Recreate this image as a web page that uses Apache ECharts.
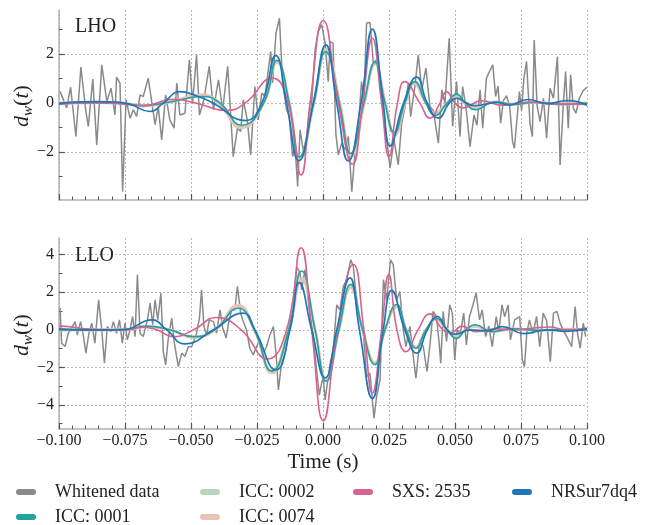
<!DOCTYPE html>
<html>
<head>
<meta charset="utf-8">
<script src="https://cdn.jsdelivr.net/npm/echarts@6/dist/echarts.min.js"></script>
<style>
html,body{margin:0;padding:0;background:#fff;}
#chart{width:649px;height:525px;}
</style>
</head>
<body>
<div id="chart"></div>
<script>
// ---------------- data (time in s, whitened strain) ----------------
const xTicks = [-0.1, -0.075, -0.05, -0.025, 0, 0.025, 0.05, 0.075, 0.1];
const lhoYTicks = [-2, 0, 2];
const lloYTicks = [-4, -2, 0, 2, 4];
const lhoYMinor = [-3, -1, 1, 3];
const lloYMinor = [-5, -3, -1, 1, 3];
const seriesNames = ['Whitened data', 'ICC: 0002', 'ICC: 0074', 'ICC: 0001', 'SXS: 2535', 'NRSur7dq4'];

const lhoWhitened = [[-0.0996,0.48],[-0.0971,-0.20],[-0.0956,0.65],[-0.0936,-1.36],[-0.0917,1.47],[-0.0899,-0.27],[-0.0889,-0.95],[-0.0872,0.98],[-0.0857,-1.70],[-0.0838,1.56],
[-0.0819,0.07],[-0.0803,0.61],[-0.0788,-0.48],[-0.0782,1.06],[-0.0769,0.82],[-0.0759,-3.60],[-0.0746,0.14],[-0.0731,-0.61],[-0.0718,-0.27],[-0.0706,-0.54],
[-0.0693,0.34],[-0.0681,0.27],[-0.0662,1.02],[-0.0636,-0.88],[-0.0624,-0.14],[-0.0611,-1.50],[-0.0596,0.34],[-0.0580,-0.68],[-0.0564,-1.02],[-0.0554,0.82],
[-0.0542,-0.48],[-0.0523,-0.41],[-0.0506,1.77],[-0.0494,0.00],[-0.0479,1.97],[-0.0468,-0.48],[-0.0451,0.14],[-0.0431,1.50],[-0.0415,-0.27],[-0.0396,0.95],
[-0.0380,-0.27],[-0.0361,1.50],[-0.0340,-2.18],[-0.0324,-1.02],[-0.0312,-1.16],[-0.0302,0.14],[-0.0287,-0.68],[-0.0274,-2.11],[-0.0258,0.68],[-0.0245,-0.68],
[-0.0232,0.41],[-0.0220,0.27],[-0.0198,2.11],[-0.0191,0.82],[-0.0178,2.86],[-0.0165,3.47],[-0.0153,0.82],[-0.0138,-0.27],[-0.0128,-0.54],[-0.0115,-2.18],
[-0.0106,-1.77],[-0.0096,-3.40],[-0.0087,-1.09],[-0.0074,-1.97],[-0.0062,-1.36],[-0.0043,0.00],[-0.0030,2.18],[-0.0018,2.93],[-0.0005,3.20],[0.0008,2.45],
[0.0020,0.88],[0.0027,2.51],[0.0038,2.45],[0.0049,-1.29],[0.0058,-2.11],[0.0071,-1.63],[0.0084,-1.90],[0.0096,-1.36],[0.0109,-3.61],[0.0120,-2.18],
[0.0134,-0.95],[0.0146,0.88],[0.0155,0.13],[0.0165,3.27],[0.0178,3.29],[0.0191,1.63],[0.0200,1.75],[0.0210,1.70],[0.0222,0.27],[0.0235,-0.89],
[0.0254,-2.65],[0.0269,-1.50],[0.0285,-2.52],[0.0298,-0.82],[0.0310,-0.20],[0.0323,0.82],[0.0332,-0.55],[0.0348,0.68],[0.0361,1.97],[0.0374,0.54],
[0.0390,1.43],[0.0405,-0.14],[0.0418,-0.30],[0.0437,-1.63],[0.0450,0.54],[0.0462,0.00],[0.0478,2.65],[0.0491,-0.95],[0.0506,0.88],[0.0519,-1.36],
[0.0529,0.68],[0.0543,-0.30],[0.0557,-1.77],[0.0572,-0.48],[0.0583,-0.90],[0.0595,0.54],[0.0605,-1.02],[0.0619,1.02],[0.0631,1.30],[0.0643,1.56],
[0.0654,0.27],[0.0663,0.70],[0.0673,-0.82],[0.0683,0.10],[0.0695,0.30],[0.0707,-0.10],[0.0718,-1.56],[0.0725,-1.84],[0.0744,0.47],[0.0752,-0.30],
[0.0761,1.02],[0.0771,1.70],[0.0784,-0.82],[0.0793,-1.36],[0.0800,2.58],[0.0811,-0.10],[0.0822,-0.75],[0.0835,0.20],[0.0847,-1.43],[0.0860,0.61],
[0.0873,0.20],[0.0888,1.90],[0.0898,-2.52],[0.0910,-0.10],[0.0919,1.29],[0.0929,-1.02],[0.0938,1.16],[0.0948,-0.20],[0.0958,-0.41],[0.0971,0.20],
[0.0985,0.50],[0.0999,0.65]];

const lhoICC0002 = [[-0.1,0.0],[-0.085,0.02],[-0.076,0.0],[-0.068,-0.1],[-0.058,0.05],[-0.0454,0.30],[-0.039,0.0],[-0.0308,-0.95],[-0.0225,0.0],[-0.0175,1.70],[-0.0128,0.0],[-0.0088,-2.25],[-0.0035,0.0],[0.0012,2.15],[0.0062,0.0],[0.0105,-2.10],[0.0155,0.0],[0.0197,1.60],[0.0235,0.0],[0.027,-1.25],[0.031,0.0],[0.0348,0.85],[0.039,0.0],[0.0425,-0.45],[0.047,0.0],[0.0503,0.28],[0.054,0.0],[0.0576,-0.2],[0.065,0.06],[0.072,-0.04],[0.08,0.03],[0.09,-0.04],[0.1,0.0]];
const lhoICC0074 = [[-0.1,0.0],[-0.085,0.02],[-0.076,0.0],[-0.068,-0.12],[-0.058,0.05],[-0.046,0.35],[-0.0395,0.0],[-0.031,-1.0],[-0.0225,0.0],[-0.0175,1.65],[-0.0128,0.0],[-0.0088,-2.30],[-0.0035,0.0],[0.0012,2.20],[0.0064,0.0],[0.0108,-2.15],[0.0157,0.0],[0.0197,1.60],[0.0237,0.0],[0.0272,-1.30],[0.0312,0.0],[0.0345,0.80],[0.039,0.0],[0.0425,-0.40],[0.047,0.0],[0.05,0.22],[0.054,0.0],[0.0576,-0.15],[0.065,0.05],[0.072,-0.04],[0.08,0.03],[0.09,-0.03],[0.1,0.0]];
const lhoICC0001 = [[-0.1,0.0],[-0.085,0.02],[-0.076,0.0],[-0.068,-0.1],[-0.058,0.05],[-0.0454,0.27],[-0.039,0.0],[-0.0308,-0.90],[-0.0225,0.0],[-0.0175,1.75],[-0.0128,0.0],[-0.009,-2.20],[-0.0035,0.0],[0.001,2.10],[0.0062,0.0],[0.0105,-2.05],[0.0155,0.0],[0.0197,1.67],[0.0235,0.0],[0.027,-1.20],[0.031,0.0],[0.0348,0.88],[0.039,0.0],[0.0425,-0.50],[0.047,0.0],[0.0506,0.37],[0.054,0.0],[0.0576,-0.27],[0.065,0.05],[0.072,-0.05],[0.08,0.03],[0.09,-0.05],[0.1,0.0]];
const lhoSXS2535 = [[-0.1,-0.05],[-0.09,0.02],[-0.08,0.0],[-0.068,-0.1],[-0.0568,0.16],[-0.0479,0.0],[-0.0365,-0.30],[-0.0295,0.0],[-0.0192,1.02],[-0.0132,0.0],[-0.0083,-2.93],[-0.0049,0.0],[0.0001,3.37],[0.0058,0.0],[0.0112,-2.49],[0.015,0.0],[0.0187,2.65],[0.0222,0.0],[0.025,-2.18],[0.0282,0.0],[0.031,0.88],[0.0367,0.0],[0.0405,-0.61],[0.0443,0.0],[0.0468,0.47],[0.05,0.0],[0.053,-0.20],[0.06,0.10],[0.068,-0.08],[0.078,0.05],[0.088,-0.03],[0.1,-0.05]];
const lhoNRSur = [[-0.1,-0.02],[-0.092,0.05],[-0.085,0.06],[-0.078,0.04],[-0.073,-0.05],[-0.0655,-0.34],[-0.0605,0.0],[-0.0542,0.47],[-0.048,0.30],[-0.0415,0.0],[-0.0295,-0.71],[-0.0232,0.0],[-0.0179,1.94],[-0.0138,0.0],[-0.0091,-2.34],[-0.0037,0.0],[0.0011,2.38],[0.0052,0.0],[0.0096,-2.36],[0.0144,0.0],[0.0187,3.02],[0.0228,0.0],[0.0254,-1.74],[0.0305,0.0],[0.0355,1.06],[0.0395,0.0],[0.0437,-0.61],[0.0478,0.0],[0.0506,0.20],[0.0545,0.0],[0.0575,-0.10],[0.066,0.03],[0.0705,-0.08],[0.0775,0.15],[0.085,-0.02],[0.0925,0.10],[0.1,-0.08]];

const lloWhitened = [[-0.0996,1.16],[-0.0990,-0.71],[-0.0977,-0.89],[-0.0965,-0.18],[-0.0952,0.10],[-0.0939,0.44],[-0.0931,-0.27],[-0.0918,0.44],[-0.0908,-0.30],[-0.0898,-1.24],
[-0.0887,-0.20],[-0.0876,0.36],[-0.0864,-0.71],[-0.0850,1.60],[-0.0838,0.00],[-0.0828,-1.78],[-0.0817,0.18],[-0.0804,-0.10],[-0.0794,0.44],[-0.0782,-0.18],
[-0.0771,0.53],[-0.0760,-0.71],[-0.0750,0.36],[-0.0741,-0.53],[-0.0731,0.00],[-0.0721,0.71],[-0.0712,-0.36],[-0.0703,2.93],[-0.0693,-0.18],[-0.0681,-0.36],
[-0.0665,0.53],[-0.0655,1.42],[-0.0645,0.27],[-0.0636,1.60],[-0.0626,0.53],[-0.0614,1.96],[-0.0605,-1.16],[-0.0596,-1.87],[-0.0586,-0.45],[-0.0573,0.62],
[-0.0563,-0.71],[-0.0548,-1.96],[-0.0535,-1.24],[-0.0523,-1.42],[-0.0510,-0.90],[-0.0497,-0.89],[-0.0479,-0.18],[-0.0468,0.62],[-0.0460,2.13],[-0.0451,0.18],
[-0.0441,-0.27],[-0.0431,0.53],[-0.0415,0.44],[-0.0403,-0.18],[-0.0390,1.07],[-0.0380,0.10],[-0.0367,-0.44],[-0.0359,0.27],[-0.0346,1.07],[-0.0334,1.07],
[-0.0324,2.31],[-0.0312,0.89],[-0.0302,0.44],[-0.0290,0.00],[-0.0277,-0.98],[-0.0264,-1.33],[-0.0252,-0.90],[-0.0239,-0.53],[-0.0226,-1.24],[-0.0214,-0.90],
[-0.0201,-0.27],[-0.0188,0.18],[-0.0178,-1.24],[-0.0169,-3.20],[-0.0157,-1.78],[-0.0140,-1.07],[-0.0125,0.53],[-0.0112,1.51],[-0.0099,3.36],[-0.0087,3.02],
[-0.0081,2.13],[-0.0068,3.20],[-0.0052,1.07],[-0.0037,-0.27],[-0.0027,-1.78],[-0.0014,-3.47],[-0.0005,-2.84],[0.0001,-2.49],[0.0008,-3.73],[0.0027,-1.78],
[0.0039,-1.07],[0.0052,1.33],[0.0064,1.07],[0.0077,2.31],[0.0090,2.67],[0.0105,3.73],[0.0115,3.38],[0.0128,1.42],[0.0140,0.53],[0.0153,-0.18],
[0.0165,-2.49],[0.0178,-2.31],[0.0193,-4.71],[0.0203,-3.56],[0.0216,-2.67],[0.0229,2.67],[0.0241,1.60],[0.0256,3.73],[0.0266,3.47],[0.0279,1.60],
[0.0291,2.04],[0.0304,0.00],[0.0314,-0.89],[0.0329,0.18],[0.0342,-1.42],[0.0352,-2.58],[0.0367,-0.53],[0.0380,-0.90],[0.0394,-2.22],[0.0407,-0.53],
[0.0417,0.98],[0.0430,0.71],[0.0440,-0.71],[0.0446,-1.78],[0.0455,0.98],[0.0468,-0.62],[0.0480,1.33],[0.0490,0.89],[0.0499,-1.60],[0.0508,0.00],
[0.0520,-0.20],[0.0533,0.89],[0.0543,-0.80],[0.0555,0.71],[0.0568,1.33],[0.0580,1.96],[0.0593,0.53],[0.0603,1.07],[0.0616,-0.36],[0.0628,0.20],
[0.0641,-0.89],[0.0656,0.71],[0.0666,-0.10],[0.0678,1.33],[0.0688,0.70],[0.0701,1.33],[0.0710,-0.53],[0.0726,0.53],[0.0745,0.71],[0.0755,-1.60],
[0.0763,-1.96],[0.0772,-0.18],[0.0782,0.53],[0.0795,-0.20],[0.0809,0.71],[0.0821,-0.89],[0.0834,0.89],[0.0847,0.50],[0.0861,-1.69],[0.0873,0.89],
[0.0886,0.98],[0.0898,0.36],[0.0910,0.00],[0.0923,-0.36],[0.0942,-0.89],[0.0955,1.24],[0.0964,-0.18],[0.0974,-0.98],[0.0986,0.36],[0.0995,-0.36]];

const lloICC0002 = [[-0.1,0.0],[-0.085,0.0],[-0.075,0.0],[-0.067,0.18],[-0.058,0.0],[-0.0491,-0.38],[-0.041,0.0],[-0.0321,1.20],[-0.026,0.0],[-0.0194,-2.15],[-0.013,0.0],[-0.008,2.75],[-0.003,0.0],[0.0012,-2.70],[0.006,0.0],[0.0105,2.35],[0.015,0.0],[0.0197,-1.80],[0.0235,0.0],[0.028,1.30],[0.0315,0.0],[0.0352,-0.95],[0.039,0.0],[0.043,0.55],[0.047,0.0],[0.0505,-0.35],[0.054,0.0],[0.0576,0.22],[0.064,-0.08],[0.072,0.05],[0.082,-0.03],[0.09,0.02],[0.1,0.0]];
const lloICC0074 = [[-0.1,0.0],[-0.085,0.0],[-0.075,0.0],[-0.067,0.15],[-0.058,0.0],[-0.0491,-0.40],[-0.041,0.0],[-0.0321,1.30],[-0.026,0.0],[-0.0194,-2.30],[-0.013,0.0],[-0.008,2.65],[-0.003,0.0],[0.0012,-2.65],[0.006,0.0],[0.0105,2.25],[0.015,0.0],[0.0197,-1.75],[0.0235,0.0],[0.028,1.25],[0.0315,0.0],[0.0352,-0.90],[0.039,0.0],[0.043,0.55],[0.047,0.0],[0.05,-0.30],[0.054,0.0],[0.0576,0.18],[0.064,-0.08],[0.072,0.04],[0.082,-0.03],[0.09,0.02],[0.1,0.0]];
const lloICC0001 = [[-0.1,0.0],[-0.085,0.0],[-0.075,0.0],[-0.067,0.20],[-0.058,0.0],[-0.0491,-0.36],[-0.041,0.0],[-0.0321,1.15],[-0.026,0.0],[-0.0194,-2.20],[-0.013,0.0],[-0.0081,3.13],[-0.003,0.0],[0.0012,-2.74],[0.006,0.0],[0.0105,2.42],[0.015,0.0],[0.0197,-1.85],[0.0235,0.0],[0.0279,1.35],[0.0315,0.0],[0.0352,-0.98],[0.039,0.0],[0.043,0.60],[0.047,0.0],[0.0505,-0.45],[0.054,0.0],[0.0576,0.27],[0.064,-0.10],[0.072,0.05],[0.082,-0.03],[0.09,0.02],[0.1,0.0]];
const lloSXS2535 = [[-0.1,0.20],[-0.095,0.15],[-0.09,0.05],[-0.08,0.0],[-0.075,0.0],[-0.068,0.14],[-0.063,0.0],[-0.0567,-0.36],[-0.049,0.0],[-0.0403,0.66],[-0.031,0.0],[-0.021,-1.55],[-0.0138,0.0],[-0.0083,4.37],[-0.0043,0.0],[0.0001,-4.84],[0.0054,0.0],[0.0115,3.48],[0.0155,0.0],[0.0187,-3.36],[0.0222,0.0],[0.0249,2.95],[0.028,0.0],[0.0314,-1.16],[0.036,0.0],[0.0405,0.85],[0.0455,0.0],[0.0487,-0.14],[0.0525,0.20],[0.058,-0.10],[0.066,0.05],[0.072,0.0],[0.08,0.10],[0.086,0.15],[0.092,0.0],[0.1,0.10]];
const lloNRSur = [[-0.1,0.05],[-0.09,0.0],[-0.08,0.0],[-0.075,0.02],[-0.0649,0.53],[-0.0592,0.0],[-0.0523,-0.75],[-0.0415,0.0],[-0.0302,0.89],[-0.0258,0.0],[-0.0178,-2.13],[-0.0125,0.0],[-0.009,2.51],[-0.0043,0.0],[0.0008,-2.56],[0.0052,0.0],[0.0102,2.77],[0.0138,0.0],[0.0187,-3.66],[0.0228,0.0],[0.026,2.10],[0.031,0.0],[0.0355,-1.24],[0.0395,0.0],[0.0433,0.71],[0.047,0.0],[0.05,-0.23],[0.056,0.0],[0.062,-0.05],[0.068,0.17],[0.076,-0.20],[0.085,0.0],[0.092,-0.08],[0.1,0.05]];

// ---------------- styling ----------------
const FONT = 'Liberation Serif';
const colors = {
  'Whitened data': '#8a8a8a',
  'ICC: 0002': '#b9d5be',
  'ICC: 0074': '#e9c3b6',
  'ICC: 0001': '#22a39e',
  'SXS: 2535': '#d8638e',
  'NRSur7dq4': '#2176b8'
};
const widths = {
  'Whitened data': 1.5, 'ICC: 0002': 2.6, 'ICC: 0074': 2.6,
  'ICC: 0001': 1.6, 'SXS: 2535': 1.6, 'NRSur7dq4': 1.7
};
const minus = v => (v < 0 ? '\u2212' + Math.abs(v) : String(v));
const xfmt = v => (v < -1e-9 ? '\u2212' : '') + Math.abs(v).toFixed(3);

const chart = echarts.init(document.getElementById('chart'), null, {renderer: 'canvas'});

const grids = [
  {left: 59, top: 10, width: 528, height: 190},
  {left: 59, top: 238, width: 528, height: 191}
];
const yRanges = [[-3.95, 3.8], [-5.28, 4.89]];
const yTickSets = [lhoYTicks, lloYTicks];
const yMinorSets = [lhoYMinor, lloYMinor];

const xAxes = [0, 1].map(g => ({
  type: 'value', gridIndex: g, min: xTicks[0], max: xTicks[xTicks.length - 1], interval: 0.025,
  axisLine: {show: true, onZero: false, lineStyle: {color: '#b0b0b0', width: 1.5}},
  axisTick: {show: true, inside: true, length: 6, lineStyle: {color: '#555', width: 1.2}},
  minorTick: {show: true, splitNumber: 5, length: 3.5, lineStyle: {color: '#555', width: 1}},
  axisLabel: {show: g === 1, formatter: xfmt, fontFamily: FONT, fontSize: 16, color: '#222', margin: 4},
  splitLine: {show: true, lineStyle: {type: [2, 2], color: '#aaaaaa', width: 0.8}},
  minorSplitLine: {show: false}
}));

const yAxes = [];
[0, 1].forEach(g => {
  yAxes.push({
    type: 'value', gridIndex: g, min: yRanges[g][0], max: yRanges[g][1], position: 'left',
    axisLine: {show: true, onZero: false, lineStyle: {color: '#b0b0b0', width: 1.5}},
    axisTick: {show: true, inside: true, length: 6, customValues: yTickSets[g], lineStyle: {color: '#555', width: 1.2}},
    axisLabel: {show: true, customValues: yTickSets[g], formatter: minus, fontFamily: FONT, fontSize: 16, color: '#222', margin: 5},
    splitLine: {show: true, lineStyle: {type: [2, 2], color: '#aaaaaa', width: 0.8}}
  });
});
[0, 1].forEach(g => {
  yAxes.push({
    type: 'value', gridIndex: g, min: yRanges[g][0], max: yRanges[g][1], position: 'left', offset: 0,
    axisLine: {show: false, onZero: false},
    axisTick: {show: true, inside: true, length: 3.5, customValues: yMinorSets[g], lineStyle: {color: '#555', width: 1}},
    axisLabel: {show: false},
    splitLine: {show: false}
  });
});

const panelData = [
  {'Whitened data': lhoWhitened, 'ICC: 0002': lhoICC0002, 'ICC: 0074': lhoICC0074, 'ICC: 0001': lhoICC0001, 'SXS: 2535': lhoSXS2535, 'NRSur7dq4': lhoNRSur},
  {'Whitened data': lloWhitened, 'ICC: 0002': lloICC0002, 'ICC: 0074': lloICC0074, 'ICC: 0001': lloICC0001, 'SXS: 2535': lloSXS2535, 'NRSur7dq4': lloNRSur}
];

const series = [];
[0, 1].forEach(g => {
  seriesNames.forEach((name, k) => {
    series.push({
      name: name, type: 'line', xAxisIndex: g, yAxisIndex: g,
      data: panelData[g][name],
      showSymbol: false, symbol: 'none',
      smooth: name === 'Whitened data' ? false : 0.5,
      color: colors[name],
      lineStyle: {color: colors[name], width: widths[name]},
      z: 2 + k,
      silent: true,
      clip: true
    });
  });
});

const capsule = 'path://M3,0H17A3,3,0,0,1,17,6H3A3,3,0,0,1,3,0Z';
const legendPos = [
  ['Whitened data', 16, 483], ['ICC: 0002', 200, 483], ['SXS: 2535', 353, 483], ['NRSur7dq4', 512, 483],
  ['ICC: 0001', 16, 508], ['ICC: 0074', 200, 508]
];
const legends = legendPos.map(([name, l, t]) => ({
  data: [name], left: l, top: t, padding: 0, orient: 'horizontal',
  icon: capsule, itemWidth: 20, itemHeight: 6,
  textStyle: {fontFamily: FONT, fontSize: 18, color: '#222', padding: [0, 0, 0, 14]},
  selectedMode: false
}));

const ylabelRich = {
  d: {fontFamily: FONT, fontStyle: 'italic', fontSize: 22, lineHeight: 28, fill: '#222', color: '#222'},
  w: {fontFamily: FONT, fontStyle: 'italic', fontSize: 15, lineHeight: 14, verticalAlign: 'bottom', fill: '#222', color: '#222'},
  p: {fontFamily: FONT, fontSize: 22, lineHeight: 28, fill: '#222', color: '#222'}
};
const ylabelText = '{d|d}{w|w}{p|(}{d|t}{p|)}';

const option = {
  animation: false,
  backgroundColor: '#fff',
  grid: grids,
  xAxis: xAxes,
  yAxis: yAxes,
  legend: legends,
  series: series,
  graphic: [
    {type: 'text', x: 75, y: 27, style: {text: 'LHO', fontFamily: FONT, fontSize: 20, fill: '#222', align: 'left', verticalAlign: 'middle'}, z: 100},
    {type: 'text', x: 75, y: 256, style: {text: 'LLO', fontFamily: FONT, fontSize: 20, fill: '#222', align: 'left', verticalAlign: 'middle'}, z: 100},
    {type: 'text', x: 323, y: 462, style: {text: 'Time (s)', fontFamily: FONT, fontSize: 21, fill: '#222', align: 'center', verticalAlign: 'middle'}, z: 100},
    {type: 'text', x: 22, y: 106, rotation: Math.PI / 2, style: {text: ylabelText, rich: ylabelRich, align: 'center', verticalAlign: 'middle', fill: '#222'}, z: 100},
    {type: 'text', x: 22, y: 335, rotation: Math.PI / 2, style: {text: ylabelText, rich: ylabelRich, align: 'center', verticalAlign: 'middle', fill: '#222'}, z: 100}
  ]
};
chart.setOption(option);
</script>
</body>
</html>
